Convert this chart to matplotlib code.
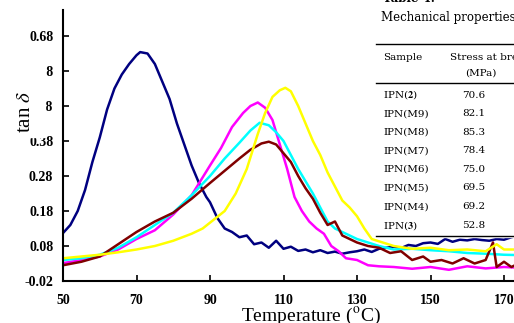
import matplotlib
matplotlib.use("Agg")
from matplotlib import pyplot as plt
from matplotlib.patches import Rectangle

plt.rcParams["font.family"] = ["Liberation Serif", "DejaVu Serif"]
plt.rcParams["mathtext.fontset"] = "stix"

W, H = 514, 323

# tan delta curves
t_navy = [50, 52, 54, 56, 58, 60, 62, 64, 66, 68, 70, 71, 73, 75, 77, 79, 81, 83, 85, 87,
          89, 90, 92, 94, 96, 98, 100, 102, 104, 106, 108, 110, 112, 114, 116, 118, 120, 122,
          124, 126, 128, 130, 132, 134, 136, 138, 140, 142, 144, 146, 148, 150, 152, 154, 156,
          158, 160, 162, 164, 166, 168, 170, 172, 174]
v_navy = [0.117, 0.14, 0.18, 0.24, 0.32, 0.39, 0.47, 0.53, 0.57, 0.60, 0.625, 0.634, 0.63,
          0.60, 0.55, 0.50, 0.43, 0.37, 0.31, 0.26, 0.22, 0.205, 0.16, 0.13, 0.12, 0.105, 0.11,
          0.085, 0.09, 0.075, 0.095, 0.072, 0.078, 0.066, 0.07, 0.062, 0.068, 0.06, 0.064,
          0.058, 0.062, 0.065, 0.07, 0.063, 0.072, 0.075, 0.078, 0.074, 0.083, 0.08, 0.088,
          0.09, 0.086, 0.1, 0.092, 0.098, 0.096, 0.1, 0.097, 0.095, 0.1, 0.098, 0.105, 0.11]

t_magenta = [50, 55, 60, 65, 70, 75, 80, 85, 90, 93, 96, 99, 101, 103, 105, 107, 109, 111,
             113, 115, 117, 119, 121, 123, 125, 127, 130, 133, 136, 140, 145, 150, 155, 160,
             165, 170, 174]
v_magenta = [0.031, 0.04, 0.05, 0.07, 0.10, 0.125, 0.17, 0.225, 0.31, 0.36, 0.42, 0.46, 0.48,
             0.49, 0.475, 0.44, 0.37, 0.30, 0.22, 0.18, 0.15, 0.13, 0.115, 0.08, 0.065, 0.045,
             0.04, 0.025, 0.022, 0.02, 0.015, 0.02, 0.012, 0.022, 0.016, 0.02, 0.018]

t_cyan = [50, 55, 60, 65, 70, 75, 80, 85, 90, 94, 98, 101, 103.5, 106, 108, 110, 112, 114,
          116, 118, 120, 122, 124, 127, 130, 133, 136, 140, 145, 150, 155, 160, 165, 170, 174]
v_cyan = [0.04, 0.045, 0.055, 0.075, 0.105, 0.14, 0.175, 0.225, 0.28, 0.33, 0.375, 0.41,
          0.432, 0.425, 0.405, 0.38, 0.34, 0.30, 0.265, 0.23, 0.19, 0.15, 0.13, 0.115, 0.10,
          0.09, 0.08, 0.07, 0.072, 0.068, 0.065, 0.06, 0.058, 0.055, 0.054]

t_brown = [50, 55, 60, 65, 70, 75, 80, 85, 90, 94, 98, 101, 104, 106, 108, 110, 112, 114,
           116, 118, 120, 122, 124, 126, 128, 130, 133, 136, 139, 142, 145, 148, 150, 153,
           156, 159, 162, 165, 167, 168, 170, 172, 174]
v_brown = [0.025, 0.035, 0.05, 0.085, 0.12, 0.15, 0.175, 0.215, 0.26, 0.295, 0.33, 0.355,
           0.373, 0.378, 0.37, 0.345, 0.32, 0.28, 0.245, 0.215, 0.175, 0.14, 0.15, 0.11, 0.10,
           0.09, 0.08, 0.075, 0.06, 0.065, 0.04, 0.05, 0.035, 0.04, 0.03, 0.045, 0.03, 0.04,
           0.09, 0.02, 0.035, 0.02, 0.03]

t_yellow = [50, 55, 60, 65, 70, 75, 80, 85, 88, 91, 94, 97, 100, 103, 105, 107, 109, 110.5,
            112, 114, 116, 118, 120, 122, 124, 126, 128, 130, 132, 134, 137, 140, 145, 150,
            155, 160, 165, 168, 170, 174]
v_yellow = [0.045, 0.05, 0.055, 0.062, 0.07, 0.08, 0.095, 0.115, 0.13, 0.155, 0.18, 0.23,
            0.30, 0.40, 0.46, 0.506, 0.525, 0.532, 0.522, 0.48, 0.43, 0.38, 0.34, 0.29, 0.25,
            0.21, 0.19, 0.165, 0.13, 0.10, 0.09, 0.08, 0.072, 0.075, 0.068, 0.07, 0.065, 0.085,
            0.07, 0.07]

x_ticks = [50, 70, 90, 110, 130, 150, 170]
y_ticks = [-0.02, 0.08, 0.18, 0.28, 0.38, 0.48, 0.58, 0.68]

samples = [r"IPN($\mathbf{2}$)", "IPN(M9)", "IPN(M8)", "IPN(M7)", "IPN(M6)", "IPN(M5)",
           "IPN(M4)", r"IPN($\mathbf{3}$)"]
stress = ["70.6", "82.1", "85.3", "78.4", "75.0", "69.5", "69.2", "52.8"]


def fx(px):
    return px / W


def fy(py):
    return 1 - py / H


fig = plt.figure(figsize=(W / 100, H / 100), dpi=100)
ax = fig.add_axes([fx(63), fy(281), fx(514) - fx(63), fy(10) - fy(281)])

series = [
    (t_navy, v_navy, "#000080"),
    (t_magenta, v_magenta, "#ff00ff"),
    (t_cyan, v_cyan, "#00ffff"),
    (t_brown, v_brown, "#800000"),
    (t_yellow, v_yellow, "#ffff00"),
]
for t, v, c in series:
    ax.plot(t, v, color=c, linewidth=1.8, solid_joinstyle="round")

ax.set_xlim(50, 50 + 451 / 3.675)
ax.set_ylim(-0.02, -0.02 + 271 / 350)
ax.set_xticks(x_ticks)
ax.set_yticks(y_ticks)
ax.set_yticklabels([f"{y:.2f}" for y in y_ticks])
for s in ["top", "right"]:
    ax.spines[s].set_visible(False)
for s in ["left", "bottom"]:
    ax.spines[s].set_linewidth(1.5)
ax.tick_params(direction="in", length=4.5, width=1.2, labelsize=10)
ax.tick_params(axis="y", pad=7)
ax.tick_params(axis="x", pad=9)
for lab in ax.get_xticklabels() + ax.get_yticklabels():
    lab.set_fontweight("bold")

# y label box hides part of the tick labels, as in the scan
fig.patches.append(Rectangle((0, fy(137)), fx(45), fy(62) - fy(137),
                             transform=fig.transFigure, color="white", zorder=5))
fig.text(fx(26), fy(112), r"tan $\delta$", rotation=90, ha="center", va="center",
         fontsize=15, zorder=6)
fig.text(fx(311), fy(316), r"Temperature ($^{\rm o}$C)", ha="center", va="center",
         fontsize=14)

# overlapping table on the right
tf = ["DejaVu Serif"]
fig.patches.append(Rectangle((fx(375), fy(237)), 1 - fx(375), 1 - fy(237),
                             transform=fig.transFigure, color="white", zorder=5))
fig.text(fx(383), fy(-1), "Table 4.", fontsize=8.5, fontweight="bold", va="center",
         family=tf, zorder=6)
fig.text(fx(381), fy(18), "Mechanical properties", fontsize=8.5, va="center",
         family=tf, zorder=6)
for yy in [44, 83, 236]:
    fig.add_artist(plt.Line2D([fx(376), 1], [fy(yy), fy(yy)], color="black",
                              linewidth=1.0, transform=fig.transFigure, zorder=6))
fig.text(fx(383), fy(57), "Sample", fontsize=7.5, va="center", family=tf, zorder=6)
fig.text(fx(450), fy(57), "Stress at break", fontsize=7.5, va="center", family=tf, zorder=6)
fig.text(fx(481), fy(73), "(MPa)", fontsize=7.5, va="center", ha="center", family=tf, zorder=6)
for i, (s, v) in enumerate(zip(samples, stress)):
    yy = 95 + i * 18.6
    fig.text(fx(383), fy(yy), s, fontsize=7.5, va="center", family=tf, zorder=6)
    fig.text(fx(474), fy(yy), v, fontsize=7.5, va="center", ha="center", family=tf, zorder=6)

fig.savefig("out.png", dpi=100)
